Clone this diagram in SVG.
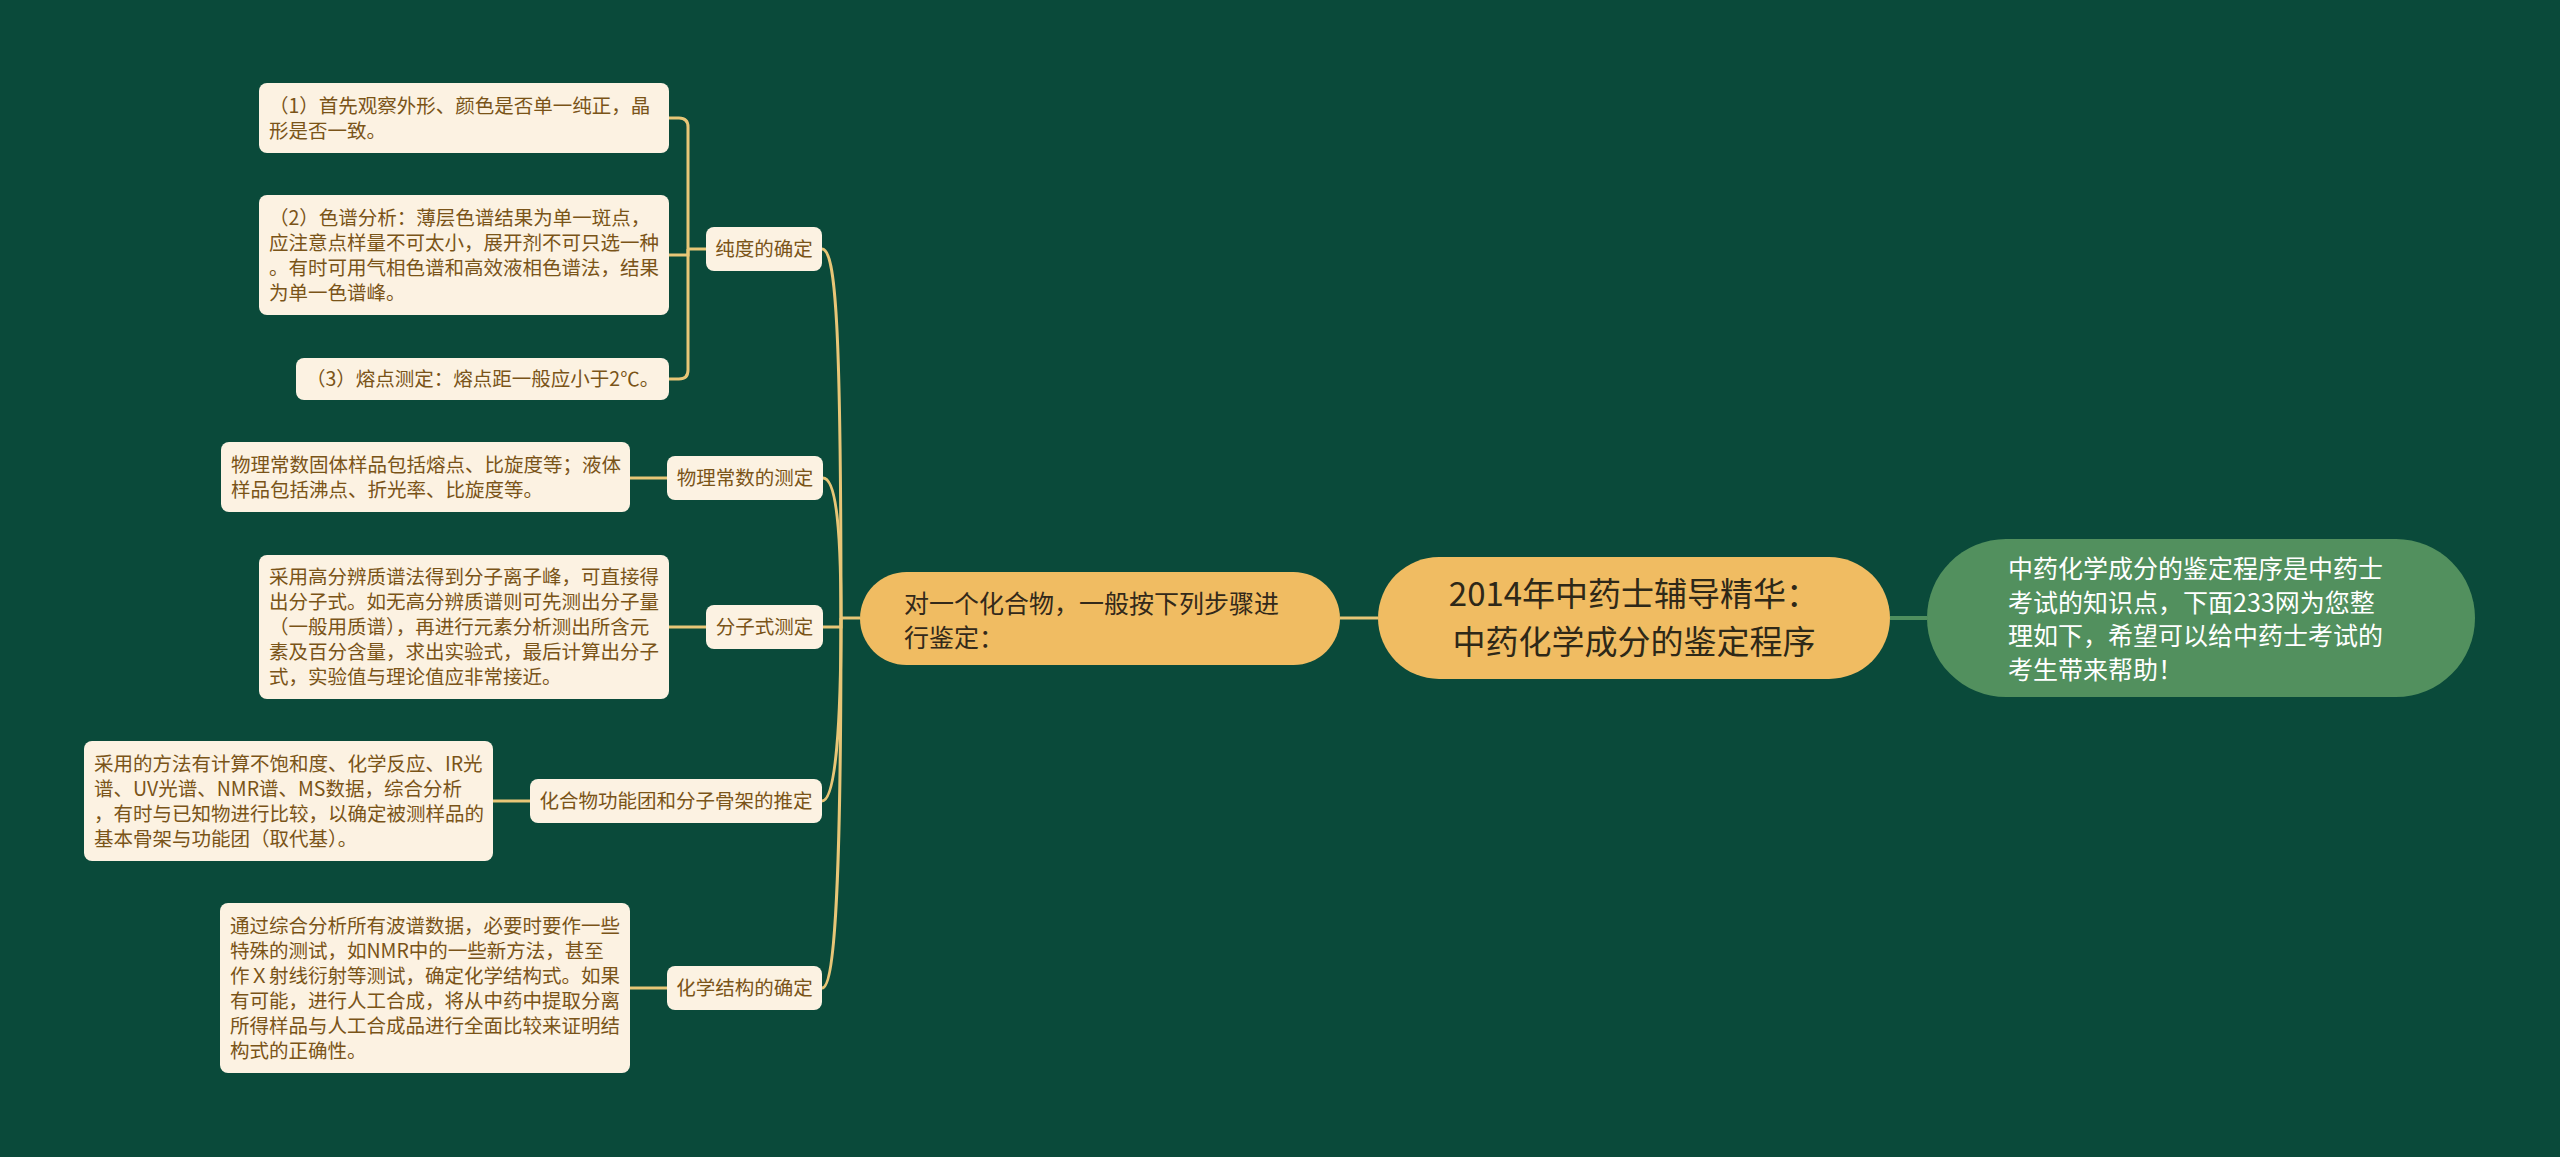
<svg xmlns="http://www.w3.org/2000/svg" width="2560" height="1157" viewBox="0 0 2560 1157">
<style>
.bg{fill:#0a4a3a}
.leaf rect,.sub rect{fill:#fcf2e2}
.leaf text,.sub text{font-family:"Noto Sans CJK SC","Noto Sans",sans-serif;font-size:19.5px;fill:#7a5418}
.sub text{text-anchor:middle}
.l1 rect{fill:#f0bc62}
.l1 text{font-family:"Noto Sans CJK SC","Noto Sans",sans-serif;font-size:25px;fill:#33291a}
.root rect{fill:#f0bc62}
.root text{font-family:"Noto Sans CJK SC","Noto Sans",sans-serif;font-size:33px;fill:#2e2818;text-anchor:middle}
.note rect{fill:#52905e}
.note text{font-family:"Noto Sans CJK SC","Noto Sans",sans-serif;font-size:25px;fill:#ffffff}
.c{fill:none;stroke:#e8c677;stroke-width:3}
.cg{fill:none;stroke:#4f8f5e;stroke-width:4}
</style>
<rect class="bg" x="0" y="0" width="2560" height="1157"/>
<g id="connectors">
<path class="cg" d="M1890,618 H1927"/>
<path class="c" d="M1340,618 H1378"/>
<path class="c" d="M841,618 H860"/>
<path class="c" d="M822,249 C836,249 841,330 841,618"/>
<path class="c" d="M823,478 C836,478 841,530 841,618"/>
<path class="c" d="M823,627 H841 V618"/>
<path class="c" d="M822,801 C836,801 841,720 841,618"/>
<path class="c" d="M822,988 C836,988 841,860 841,618"/>
<path class="c" d="M706,249 H688"/>
<path class="c" d="M688,249 V127 Q688,118 679,118 H669"/>
<path class="c" d="M688,249 V255 H669"/>
<path class="c" d="M688,249 V370 Q688,379 679,379 H669"/>
<path class="c" d="M630,478 H667"/>
<path class="c" d="M669,627 H706"/>
<path class="c" d="M493,801 H530"/>
<path class="c" d="M630,988 H667"/>
</g>
<g id="root" class="root">
<rect x="1378" y="557" width="512" height="122" rx="61"/>
<text x="1634" y="605.5">2014年中药士辅导精华：</text>
<text x="1634" y="654">中药化学成分的鉴定程序</text>
</g>
<g id="note" class="note">
<rect x="1927" y="539" width="548" height="158" rx="79"/>
<text x="2008" y="578">中药化学成分的鉴定程序是中药士</text>
<text x="2008" y="611.5">考试的知识点，下面233网为您整</text>
<text x="2008" y="645">理如下，希望可以给中药士考试的</text>
<text x="2008" y="678.5">考生带来帮助！</text>
</g>
<g id="step" class="l1">
<rect x="860" y="572" width="480" height="93" rx="46.5"/>
<text x="904" y="613">对一个化合物，一般按下列步骤进</text>
<text x="904" y="647">行鉴定：</text>
</g>
<g id="purity" class="sub">
<rect x="706" y="227" width="116" height="44" rx="8"/>
<text x="764" y="256">纯度的确定</text>
</g>
<g id="physical" class="sub">
<rect x="667" y="456" width="156" height="44" rx="8"/>
<text x="745" y="485">物理常数的测定</text>
</g>
<g id="formula" class="sub">
<rect x="706" y="605" width="117" height="44" rx="8"/>
<text x="764.5" y="634">分子式测定</text>
</g>
<g id="skeleton" class="sub">
<rect x="530" y="779" width="292" height="44" rx="8"/>
<text x="676" y="808">化合物功能团和分子骨架的推定</text>
</g>
<g id="structure" class="sub">
<rect x="667" y="966" width="155" height="44" rx="8"/>
<text x="744.5" y="995">化学结构的确定</text>
</g>
<g id="leaf-purity-1" class="leaf">
<rect x="259" y="83" width="410" height="70" rx="8"/>
<text x="269" y="112.5">（1）首先观察外形、颜色是否单一纯正，晶</text>
<text x="269" y="137.5">形是否一致。</text>
</g>
<g id="leaf-purity-2" class="leaf">
<rect x="259" y="195" width="410" height="120" rx="8"/>
<text x="269" y="224.5">（2）色谱分析：薄层色谱结果为单一斑点，</text>
<text x="269" y="249.5">应注意点样量不可太小，展开剂不可只选一种</text>
<text x="269" y="274.5">。有时可用气相色谱和高效液相色谱法，结果</text>
<text x="269" y="299.5">为单一色谱峰。</text>
</g>
<g id="leaf-purity-3" class="leaf">
<rect x="296" y="358" width="373" height="42" rx="8"/>
<text x="306" y="386">（3）熔点测定：熔点距一般应小于2℃。</text>
</g>
<g id="leaf-physical" class="leaf">
<rect x="221" y="442" width="409" height="70" rx="8"/>
<text x="231" y="471.5">物理常数固体样品包括熔点、比旋度等；液体</text>
<text x="231" y="496.5">样品包括沸点、折光率、比旋度等。</text>
</g>
<g id="leaf-formula" class="leaf">
<rect x="259" y="555" width="410" height="144" rx="8"/>
<text x="269" y="584">采用高分辨质谱法得到分子离子峰，可直接得</text>
<text x="269" y="609">出分子式。如无高分辨质谱则可先测出分子量</text>
<text x="269" y="634">（一般用质谱），再进行元素分析测出所含元</text>
<text x="269" y="659">素及百分含量，求出实验式，最后计算出分子</text>
<text x="269" y="684">式，实验值与理论值应非常接近。</text>
</g>
<g id="leaf-skeleton" class="leaf">
<rect x="84" y="741" width="409" height="120" rx="8"/>
<text x="94" y="770.5">采用的方法有计算不饱和度、化学反应、IR光</text>
<text x="94" y="795.5">谱、UV光谱、NMR谱、MS数据，综合分析</text>
<text x="94" y="820.5">，有时与已知物进行比较，以确定被测样品的</text>
<text x="94" y="845.5">基本骨架与功能团（取代基）。</text>
</g>
<g id="leaf-structure" class="leaf">
<rect x="220" y="903" width="410" height="170" rx="8"/>
<text x="230" y="932.5">通过综合分析所有波谱数据，必要时要作一些</text>
<text x="230" y="957.5">特殊的测试，如NMR中的一些新方法，甚至</text>
<text x="230" y="982.5">作Ｘ射线衍射等测试，确定化学结构式。如果</text>
<text x="230" y="1007.5">有可能，进行人工合成，将从中药中提取分离</text>
<text x="230" y="1032.5">所得样品与人工合成品进行全面比较来证明结</text>
<text x="230" y="1057.5">构式的正确性。</text>
</g>
</svg>
